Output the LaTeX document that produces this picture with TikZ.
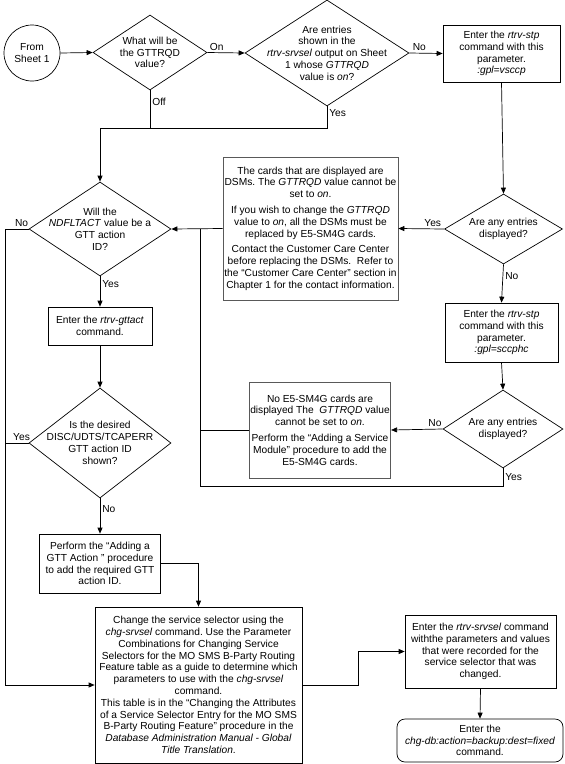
\documentclass[tikz,border=0pt]{standalone}
\usepackage{fontspec}
\setmainfont{Liberation Sans}
\usetikzlibrary{positioning, shapes.geometric, arrows.meta}
\frenchspacing

\begin{document}
\begin{tikzpicture}[
        x=1pt, y=-1pt,
        >={Triangle[length=6pt, width=5pt]},
        line width=0.7pt,
        every node/.style={font=\fontsize{10.2}{11.8}\selectfont},
        box/.style={draw, rectangle, inner sep=1pt, align=center},
        note/.style={box, draw=black!65},
        decision/.style={draw, diamond, inner sep=0pt},
        dtext/.style={align=center, inner sep=0pt},
        term/.style={box, rounded corners=8pt},
        lbl/.style={inner sep=2pt}
    ]

    \useasboundingbox (0,0) rectangle (565,764);

    \node[draw, circle, minimum size=56pt, align=center, inner sep=0pt] (from_sheet) at (32,53) {From\\Sheet 1};
    \node[decision, minimum width=114pt, minimum height=75pt, label={[dtext]center:{What will be\\the GTTRQD\\value?}}] (gttrqd_val) at (150,52.5) {};
    \node[decision, minimum width=164pt, minimum height=106pt, label={[dtext]center:{Are entries\\shown in the\\\textit{rtrv-srvsel} output on Sheet\\1 whose \textit{GTTRQD}\\value is \textit{on}?}}] (entries_on) at (327,53) {};
    \node[box, minimum width=117pt, minimum height=57pt] (stp_vsccp) at (501.5,53.5) {Enter the \textit{rtrv-stp}\\command with this\\parameter.\\\textit{:gpl=vsccp}};

    \node[decision, minimum width=142pt, minimum height=94pt, label={[dtext]center:{Will the\\\textit{NDFLTACT} value be a\\GTT action\\ID?}}] (ndfltact) at (100,229) {};
    \node[note, minimum width=175pt, minimum height=143pt] (dsm_note) at (310.5,228.5) {The cards that are displayed are\\DSMs. The \textit{GTTRQD} value cannot be\\set to \textit{on}.\\[4pt]If you wish to change the \textit{GTTRQD}\\value to \textit{on}, all the DSMs must be\\replaced by E5-SM4G cards.\\[4pt]Contact the Customer Care Center\\before replacing the DSMs.\ \ Refer to\\the “Customer Care Center” section in\\Chapter 1 for the contact information.};
    \node[decision, minimum width=118pt, minimum height=70pt, label={[dtext]center:{Are any entries\\displayed?}}] (any_vsccp) at (503.5,229) {};

    \node[box, minimum width=104pt, minimum height=38pt] (rtrv_gttact) at (100,326) {Enter the \textit{rtrv-gttact}\\command.};
    \node[box, minimum width=113pt, minimum height=59pt] (stp_sccphc) at (501.5,332.5) {Enter the \textit{rtrv-stp}\\command with this\\parameter.\\\textit{:gpl=sccphc}};

    \node[decision, minimum width=142pt, minimum height=110pt, label={[dtext]center:{Is the desired\\DISC/UDTS/TCAPERR\\GTT action ID\\shown?}}] (act_shown) at (100,443) {};
    \node[note, minimum width=140pt, minimum height=96pt] (no_sm4g) at (320,430) {No E5-SM4G cards are\\displayed The \ \textit{GTTRQD} value\\cannot be set to \textit{on}.\\[4pt]Perform the “Adding a Service\\Module” procedure to add the\\E5-SM4G cards.};
    \node[decision, minimum width=120pt, minimum height=78pt, label={[dtext]center:{Are any entries\\displayed?}}] (any_sccphc) at (503,429) {};

    \node[box, minimum width=121pt, minimum height=59pt] (add_act) at (100,563.5) {Perform the “Adding a\\GTT Action ” procedure\\to add the required GTT\\action ID.};
    \node[box, minimum width=207pt, minimum height=156pt] (chg_srvsel) at (198.5,685) {Change the service selector using the\\\textit{chg-srvsel} command. Use the Parameter\\Combinations for Changing Service\\Selectors for the MO SMS B-Party Routing\\Feature table as a guide to determine which\\parameters to use with the \textit{chg-srvsel}\\command.\\This table is in the “Changing the Attributes\\of a Service Selector Entry for the MO SMS\\B-Party Routing Feature” procedure in the\\\textit{Database Administration Manual - Global}\\\textit{Title Translation}.};
    \node[box, minimum width=151pt, minimum height=73pt] (rtrv_srvsel) at (480.5,651.5) {Enter the \textit{rtrv-srvsel} command\\withthe parameters and values\\that were recorded for the\\service selector that was\\changed.};
    \node[term, minimum width=166pt, minimum height=43pt] (chg_db) at (480,740.5) {Enter the\\\textit{chg-db:action=backup:dest=fixed}\\command.};

    \coordinate (off_join) at (100,128);
    \coordinate (left_bus) at (5,229);
    \coordinate (right_bus) at (200,229);

    \draw[->] (from_sheet.east) -- (gttrqd_val.west);
    \draw[->] (gttrqd_val.east) -- node[lbl, above, pos=0.25] (lbl_on) {On} (entries_on.west);
    \draw[->] (entries_on.east) -- node[lbl, above, pos=0.3] (lbl_no_vsccp) {No} (stp_vsccp.west);
    \draw (gttrqd_val.south) -- node[lbl, right, pos=0.3] (lbl_off) {Off} (gttrqd_val.south |- off_join);
    \draw[->] (entries_on.south) -- node[lbl, right, pos=0.3] (lbl_yes_on) {Yes} (entries_on.south |- off_join) -| (ndfltact.north);

    \draw[->] (stp_vsccp.south) -- (any_vsccp.north);
    \draw[->] (any_vsccp.west) -- node[lbl, above, pos=0.25] (lbl_yes_dsm) {Yes} (dsm_note.east);
    \draw[->] (dsm_note.west) -- (ndfltact.east);
    \draw[->] (any_vsccp.south) -- node[lbl, right, pos=0.3] (lbl_no_dsm) {No} (stp_sccphc.north);
    \draw[->] (stp_sccphc.south) -- (any_sccphc.north);
    \draw[->] (any_sccphc.west) -- node[lbl, above, pos=0.15] (lbl_no_sm4g) {No} (no_sm4g.east);
    \draw (no_sm4g.west) -- (no_sm4g.west -| right_bus);
    \draw (any_sccphc.south) -- node[lbl, right, pos=0.5] (lbl_yes_sm4g) {Yes} ++(0,18) -| (right_bus);

    \draw[->] (ndfltact.west) -- node[lbl, above, pos=0.3] (lbl_no_act) {No} (left_bus) |- (chg_srvsel.west);
    \draw[->] (ndfltact.south) -- node[lbl, right, pos=0.25] (lbl_yes_act) {Yes} (rtrv_gttact.north);
    \draw[->] (rtrv_gttact.south) -- (act_shown.north);
    \draw (act_shown.west) -- node[lbl, above, pos=0.3] (lbl_yes_shown) {Yes} (act_shown.west -| left_bus);
    \draw[->] (act_shown.south) -- node[lbl, right, pos=0.3] (lbl_no_shown) {No} (add_act.north);
    \draw[->] (add_act.east) -| (chg_srvsel.north);
    \draw[->] (chg_srvsel.east) -- ++(56,0) |- (rtrv_srvsel.west);
    \draw[->] (rtrv_srvsel.south) -- (chg_db.north);

    \end{tikzpicture}
\end{document}
